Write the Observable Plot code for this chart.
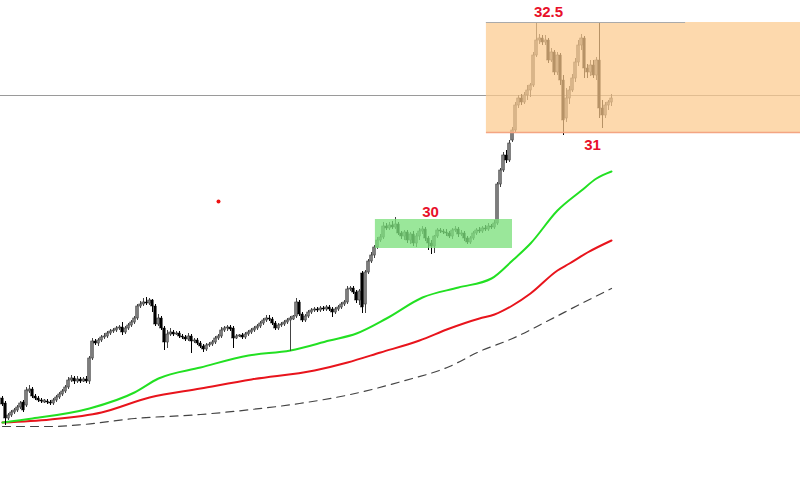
<!DOCTYPE html>
<html><head><meta charset="utf-8">
<script src="https://cdn.jsdelivr.net/npm/d3@7"></script>
<script src="https://cdn.jsdelivr.net/npm/@observablehq/plot@0.6"></script>
<style>body{margin:0;background:#fff} #chart svg{display:block;background:#fff}</style>
</head><body><div id="chart"></div>
<script>
const opens=[105,100,85,88,91,93,96,101,98,112, 114,107,105,103,101,102,101,100,103,106, 109,112,116,123,125,122,124,122,124,122, 145,162,160,163,166,167,170,172,173,175, 176,171,175,178,181,185,197,199,201,200, 203,197,179,185,175,161,169,171,169,170, 167,166,164,167,162,163,160,157,154,158, 159,161,165,167,173,175,176,175,165,167, 168,166,169,171,173,175,177,180,183,185, 184,180,175,178,179,181,183,184,187,201, 189,183,187,191,193,194,193,195,194,196, 194,191,194,196,199,201,214,215,211,203, 230,199,231,242,248,256,263,266,277,275, 278,276,279,270,267,271,263,269,260,267, 272,274,265,260,257,267,273,272,271,270, 267,273,274,269,270,265,261,265,270,273, 272,275,274,277,276,280,319,333,348,343, 363,373,398,405,401,408,413,418,448,463, 465,461,463,443,451,431,448,423,385,405, 413,425,441,458,465,435,431,438,428,443, 395,388,398,401];
const closes=[99,85,88,91,93,96,100,93,113,114, 107,105,103,102,103,101,100,103,106,109, 112,116,123,125,122,124,122,124,122,145, 162,160,163,166,167,170,172,173,175,176, 171,175,178,181,185,197,199,201,200,203, 197,179,185,175,161,169,171,169,170,167, 166,164,167,162,163,160,157,154,158,159, 161,165,167,173,175,176,174,165,167,168, 166,169,171,173,175,177,180,183,185,184, 180,175,178,179,181,183,185,187,201,189, 183,187,191,193,194,193,195,194,196,194, 191,194,196,199,201,214,215,211,203,212, 196,231,242,248,256,263,266,277,275,278, 276,279,270,267,271,263,269,260,267,272, 274,265,260,257,267,273,272,271,270,267, 273,274,269,270,265,261,265,270,273,272, 275,274,277,276,280,319,333,348,343,360, 373,398,405,401,408,413,418,448,463,465, 461,463,443,451,431,448,423,383,405,413, 425,441,458,465,435,431,438,428,443,395, 388,398,401,405];
const highs=[107,102,90,93,95,98,102,103,116,118, 116,109,107,105,104,104,103,105,108,111, 114,118,126,128,127,127,126,126,127,147, 165,164,165,168,170,172,174,175,177,178, 181,177,180,183,187,199,202,205,206,205, 204,199,189,187,177,173,175,173,172,172, 169,168,170,169,165,165,162,159,160,161, 163,167,169,176,177,178,178,177,169,169, 170,171,173,175,177,179,182,185,188,188, 186,182,180,181,183,185,187,188,205,203, 191,189,193,195,196,196,197,197,198,198, 196,196,198,201,203,217,217,217,213,214, 232,233,244,251,258,266,269,281,280,281, 282,286,281,272,273,273,271,272,270,275, 277,276,267,263,268,275,275,274,274,272, 275,277,276,273,272,267,267,272,275,276, 277,278,280,279,283,321,335,351,353,363, 376,401,408,409,411,418,420,451,481,469, 468,468,465,455,453,451,450,428,415,417, 429,445,463,469,467,439,443,443,446,481, 403,401,403,409];
const lows=[97,78,83,86,89,91,94,91,96,110, 105,103,101,100,100,99,98,98,101,104, 107,110,114,121,119,120,120,121,120,119, 143,158,157,161,164,165,168,170,171,173, 168,169,173,176,179,183,195,197,198,198, 191,177,177,173,153,155,167,167,168,165, 164,162,162,150,160,158,155,151,152,156, 157,159,163,165,171,172,172,155,164,166, 164,164,167,169,171,173,175,178,181,182, 178,173,173,176,177,179,152,183,185,187, 181,181,185,189,191,191,191,192,192,192, 186,189,192,194,197,199,212,209,200,198, 190,190,229,240,245,254,261,264,273,273, 274,274,268,264,263,260,259,257,256,263, 269,262,253,249,250,265,270,269,267,265, 264,271,266,267,262,259,259,263,268,270, 270,272,272,274,274,278,316,331,340,341, 361,371,395,398,399,403,406,416,446,459, 458,458,440,441,428,428,418,368,381,399, 411,421,437,453,425,425,427,425,423,385, 375,385,393,397];

// moving averages (sampled at candle index)
const greenIdx=[0,10,29,44,52,66,82,96,109,118,128,140,152,163,170,176,185,193,198,203];
const greenVal=[81,85,95,111,125,136,148,153,163,170,185,206,216,225,243,260,293,313,325,332];
const redIdx=[0,16,33,49,66,83,104,115,126,139,149,159,164,170,176,185,189,195,203];
const redVal=[81,84,91,106,115,124,133,141,151,163,175,185,189,198,210,233,240,251,263];
const dashIdx=[0,16,27,44,66,83,99,116,133,149,159,170,182,193,203];
const dashVal=[77,77,79,85,89,94,100,109,122,137,152,165,183,200,215];

// levels and zones
const hLevel=408;
const greenZone={x1:124.3,x2:170,y1:255,y2:284};
const orangeZone={x1:161.3,x2:266,y1:371,y2:481};
const orangeTopEnd=227.7;
const labelText=["30","31","32.5"];
const labelIdx=[142.7,196.7,182];
const labelVal=[291,358,491];
const dotIdx=[72];
const dotVal=[302];

const candles=closes.map((c,i)=>({i,o:opens[i],c,h:Math.max(highs[i],opens[i],c),l:Math.min(lows[i],opens[i],c)}));
const up=candles.filter(d=>d.c>=d.o), down=candles.filter(d=>d.c<d.o);
const mk=(idx,val)=>idx.map((i,k)=>({i,v:val[k]}));
const labels=labelText.map((t,k)=>({t,i:labelIdx[k],v:labelVal[k]}));

const chart=Plot.plot({
  width:800,height:503,margin:0,
  x:{domain:[-0.667,266],axis:null},
  y:{domain:[0,503],axis:null},
  marks:[
    Plot.ruleY([hLevel],{stroke:"#9a9a9a",strokeWidth:1}),
    Plot.line(mk(dashIdx,dashVal),{x:"i",y:"v",stroke:"#444",strokeWidth:1.2,strokeDasharray:"8,6",curve:"monotone-x"}),
    Plot.line(mk(redIdx,redVal),{x:"i",y:"v",stroke:"#e8141c",strokeWidth:2,curve:"monotone-x"}),
    Plot.line(mk(greenIdx,greenVal),{x:"i",y:"v",stroke:"#22e022",strokeWidth:2,curve:"monotone-x"}),
    Plot.ruleX(up,{x:"i",y1:"l",y2:"h",stroke:"#444",strokeWidth:1}),
    Plot.ruleX(down,{x:"i",y1:"l",y2:"h",stroke:"#000",strokeWidth:1}),
    Plot.rect(up,{x1:d=>d.i-0.42,x2:d=>d.i+0.42,y1:"o",y2:"c",fill:"#808080",stroke:"#3a3a3a",strokeWidth:0.6}),
    Plot.rect(down,{x1:d=>d.i-0.42,x2:d=>d.i+0.42,y1:"o",y2:"c",fill:"#000",stroke:"#000",strokeWidth:0.4}),
    Plot.rect([greenZone],{x1:"x1",x2:"x2",y1:"y1",y2:"y2",fill:"#7ee07e",fillOpacity:0.78}),
    Plot.rect([orangeZone],{x1:"x1",x2:"x2",y1:"y1",y2:"y2",fill:"#fccb8e",fillOpacity:0.72}),
    Plot.ruleY([orangeZone],{y:"y1",x1:"x1",x2:"x2",stroke:"#f4a582",strokeWidth:1.5}),
    Plot.ruleY([orangeZone],{y:"y2",x1:"x1",x2:()=>orangeTopEnd,stroke:"#aaa",strokeWidth:1}),
    Plot.text(labels,{x:"i",y:"v",text:"t",fill:"#e8102a",fontWeight:"bold",fontSize:15,fontFamily:"Liberation Sans, Arial, sans-serif"}),
    Plot.dot(mk(dotIdx,dotVal),{x:"i",y:"v",rx:2.5,r:2,fill:"#ee1111",stroke:null})
  ]
});
document.getElementById("chart").append(chart);
</script>
</body></html>
